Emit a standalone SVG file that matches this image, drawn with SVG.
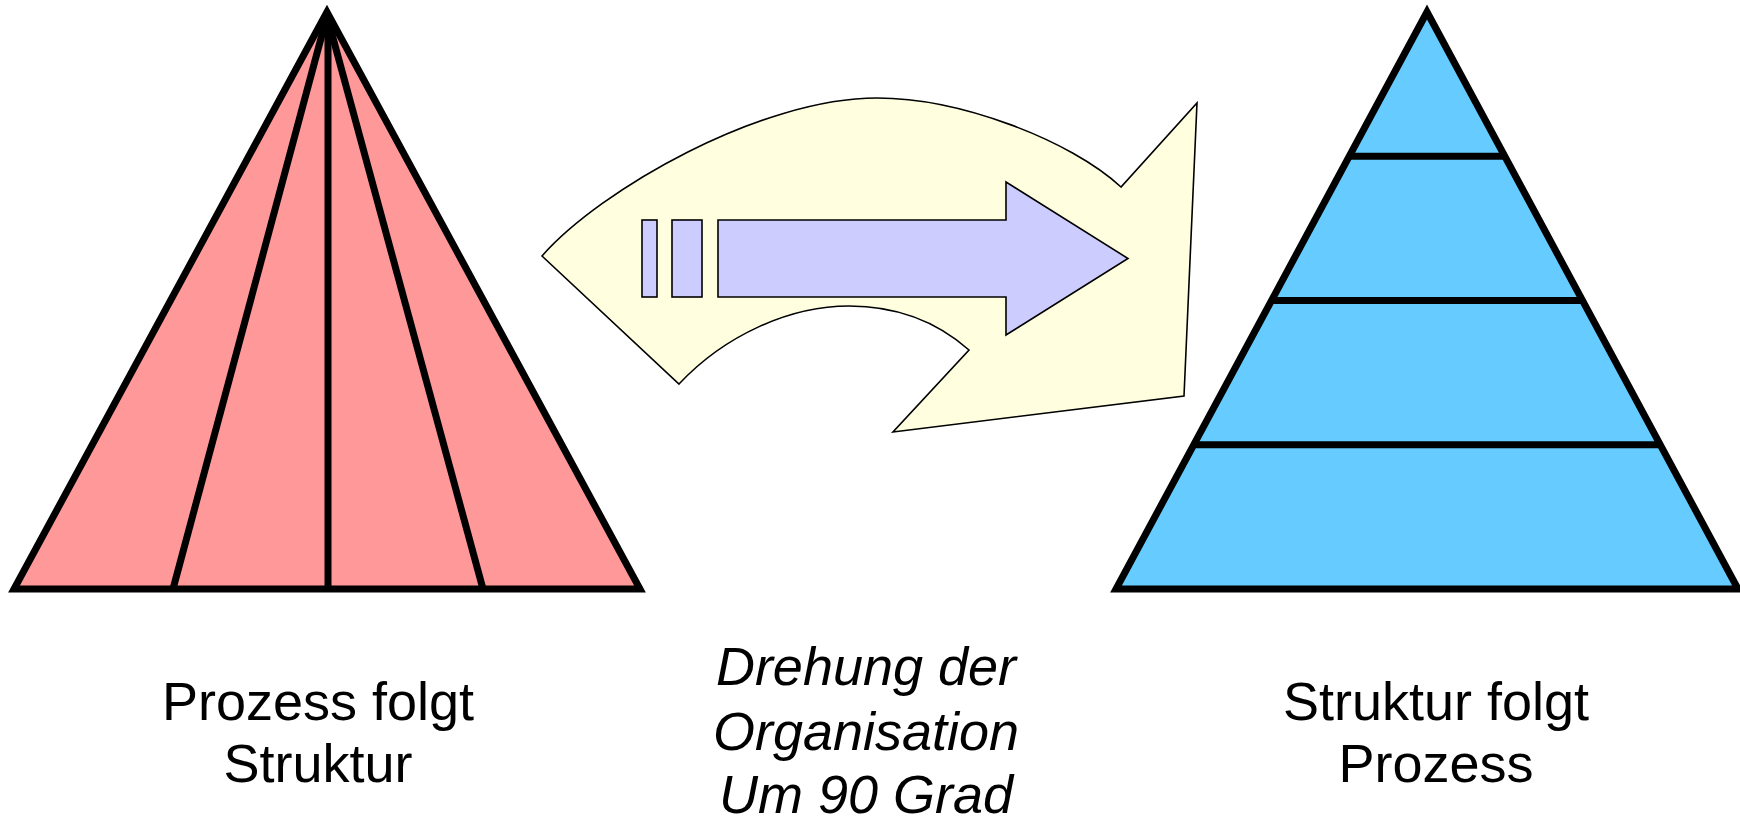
<svg xmlns="http://www.w3.org/2000/svg" width="1740" height="818" viewBox="0 0 1740 818">
  <style>
    .pyr { stroke: #000; stroke-width: 7; stroke-linejoin: miter; stroke-miterlimit: 10; }
    .div { stroke: #000; stroke-width: 7; fill: none; }
    .thin { stroke: #000; stroke-width: 1.6; stroke-linejoin: miter; }
    .label { font-family: "Liberation Sans", Arial, sans-serif; font-size: 54px; fill: #000; text-anchor: middle; }
    .italic { font-style: italic; }
  </style>

  <!-- Left pyramid: vertical segments -->
  <g id="pyramid-left">
    <polygon points="327,12 14,589 640,589" fill="#FF9999"/>
    <line class="div" x1="327" y1="16" x2="173" y2="589"/>
    <line class="div" x1="328" y1="16" x2="328" y2="589"/>
    <line class="div" x1="327" y1="16" x2="483" y2="589"/>
    <polygon class="pyr" points="327,12 14,589 640,589" fill="none"/>
  </g>

  <!-- Rotation arrow in the middle -->
  <g id="rotation-arrow">
    <path class="thin" fill="#FFFFE0"
          d="M542,256 C600,190 760,98 877,98 C960,98 1070,140 1121,187 L1197,103 L1184,396 L893,432 L969,350 C935,320 895,306 849,306 C790,306 725,335 679,384 Z"/>
    <rect class="thin" x="642" y="220" width="15" height="77" fill="#CCCCFF"/>
    <rect class="thin" x="672" y="220" width="30" height="77" fill="#CCCCFF"/>
    <path class="thin" fill="#CCCCFF" d="M718,220 L1006,220 L1006,182 L1128,258.5 L1006,335 L1006,297 L718,297 Z"/>
  </g>

  <!-- Right pyramid: horizontal layers -->
  <g id="pyramid-right">
    <polygon points="1427,12 1116,589 1738,589" fill="#66CCFF"/>
    <line class="div" x1="1349" y1="156.25" x2="1505" y2="156.25"/>
    <line class="div" x1="1272" y1="300.5" x2="1582" y2="300.5"/>
    <line class="div" x1="1194" y1="444.75" x2="1660" y2="444.75"/>
    <polygon class="pyr" points="1427,12 1116,589 1738,589" fill="none"/>
  </g>

  <!-- Captions -->
  <g id="caption-left">
    <text class="label" x="318" y="720">Prozess folgt</text>
    <text class="label" x="318" y="782">Struktur</text>
  </g>
  <g id="caption-middle">
    <text class="label italic" x="866" y="685">Drehung der</text>
    <text class="label italic" x="866" y="750">Organisation</text>
    <text class="label italic" x="866" y="813">Um 90 Grad</text>
  </g>
  <g id="caption-right">
    <text class="label" x="1436" y="720">Struktur folgt</text>
    <text class="label" x="1436" y="782">Prozess</text>
  </g>
</svg>
